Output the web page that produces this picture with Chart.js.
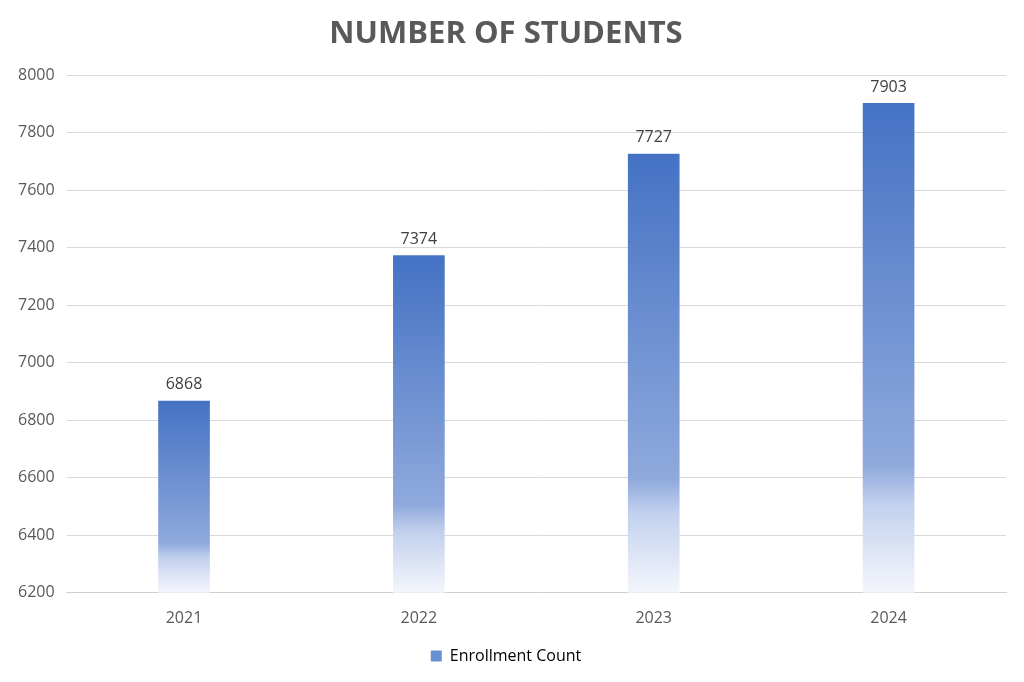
<!DOCTYPE html>
<html>
<head>
<meta charset="utf-8">
<script src="https://cdn.jsdelivr.net/npm/chart.js@4"></script>
<style>
  html, body { margin: 0; padding: 0; background: #fff; }
  #wrap { width: 1024px; height: 682px; }
</style>
</head>
<body>
<div id="wrap"><canvas id="studentsChart"></canvas></div>
<script>
const years = ['2021', '2022', '2023', '2024'];
const enrollment = [6868, 7374, 7727, 7903];
const yTicks = [6200, 6400, 6600, 6800, 7000, 7200, 7400, 7600, 7800, 8000];

const FONT = "'Open Sans', Lato, sans-serif";

// each bar gets its own gradient, blue at top fading to white at the base
function barFill(context) {
    const chart = context.chart;
    if (!chart.chartArea || context.raw === undefined) return '#4472C4';
    const top = chart.scales.y.getPixelForValue(context.raw);
    const bottom = chart.scales.y.getPixelForValue(yTicks[0]);
    const g = chart.ctx.createLinearGradient(0, top, 0, bottom);
    g.addColorStop(0, '#4472C4');
    g.addColorStop(0.74, '#8FA9DC');
    g.addColorStop(0.82, '#C3D1EE');
    g.addColorStop(1, '#F4F6FC');
    return g;
}

const valueLabels = {
    id: 'valueLabels',
    afterDatasetsDraw(chart) {
        const ctx = chart.ctx;
        const meta = chart.getDatasetMeta(0);
        ctx.save();
        ctx.font = '16px ' + FONT;
        ctx.fillStyle = '#404040';
        ctx.textAlign = 'center';
        ctx.textBaseline = 'bottom';
        meta.data.forEach((bar, i) => {
            ctx.fillText(enrollment[i], bar.x, bar.y - 8);
        });
        ctx.restore();
    }
};

new Chart(document.getElementById('studentsChart'), {
    type: 'bar',
    data: {
        labels: years,
        datasets: [{
            label: 'Enrollment Count',
            data: enrollment,
            backgroundColor: barFill,
            borderWidth: 0,
            categoryPercentage: 1,
            barPercentage: 0.22
        }]
    },
    options: {
        responsive: true,
        maintainAspectRatio: false,
        animation: false,
        layout: { padding: { left: 6, right: 18, top: 14, bottom: 8 } },
        scales: {
            y: {
                min: 6200,
                max: 8000,
                afterBuildTicks: axis => { axis.ticks = yTicks.map(v => ({ value: v })); },
                grid: { color: '#D9D9D9', drawTicks: false },
                border: { display: false },
                ticks: {
                    color: '#595959',
                    font: { family: FONT, size: 16 },
                    padding: 12,
                    callback: v => String(v)
                }
            },
            x: {
                grid: { display: false },
                border: { color: '#D0D0D0' },
                ticks: { color: '#595959', font: { family: FONT, size: 16 }, padding: 8 }
            }
        },
        plugins: {
            title: {
                display: true,
                text: 'NUMBER OF STUDENTS',
                color: '#595959',
                font: { family: FONT, size: 31, weight: 'bold' },
                padding: { top: 2, bottom: 22 }
            },
            legend: {
                position: 'bottom',
                labels: {
                    color: '#595959',
                    font: { family: FONT, size: 16 },
                    boxWidth: 11,
                    boxHeight: 11,
                    padding: 12,
                    generateLabels: chart => [{
                        text: 'Enrollment Count',
                        fillStyle: '#6A8ED3',
                        strokeStyle: '#6A8ED3',
                        lineWidth: 0,
                        datasetIndex: 0
                    }]
                }
            },
            tooltip: { enabled: false }
        }
    },
    plugins: [valueLabels]
});
</script>
</body>
</html>
